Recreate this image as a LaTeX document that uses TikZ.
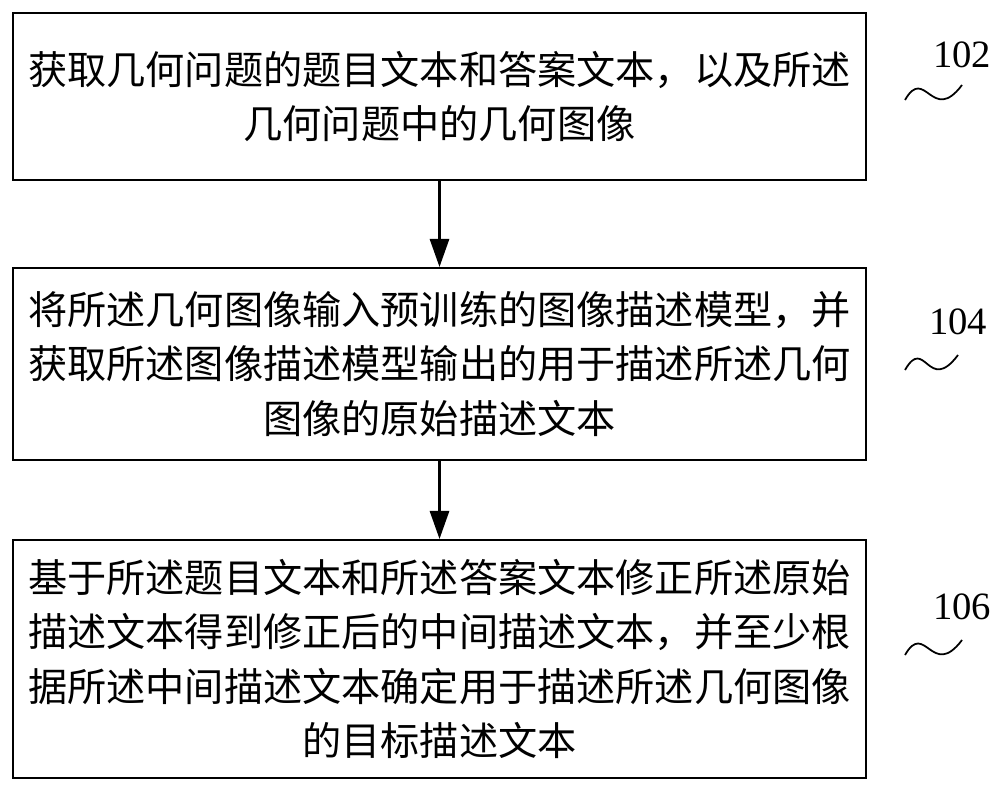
\documentclass[tikz,border=0pt]{standalone}
\usepackage{fontspec}
\setmainfont{Liberation Serif}
\newfontfamily\cjk{Noto Sans CJK SC}
\usetikzlibrary{arrows.meta}
\begin{document}
\begin{tikzpicture}[x=0.02cm,y=-0.02cm,
  stepbox/.style={draw,line width=1.2pt,minimum width=853*0.02cm,text width=840*0.02cm,align=center,font=\cjk\fontsize{22.3pt}{31pt}\selectfont,inner sep=0pt},
  conn/.style={-{Triangle[length=16pt,width=11pt]},line width=1.2pt},
  lbl/.style={font=\fontsize{22pt}{24pt}\selectfont},
  sq/.style={line width=1pt}]
\useasboundingbox (0,0) rectangle (1000,791);
\node[stepbox,minimum height=167*0.02cm] (b1) at (439.5,96.5) {获取几何问题的题目文本和答案文本，以及所述\\几何问题中的几何图像};
\node[stepbox,minimum height=192*0.02cm] (b2) at (439.5,364) {将所述几何图像输入预训练的图像描述模型，并\\获取所述图像描述模型输出的用于描述所述几何\\图像的原始描述文本};
\node[stepbox,minimum height=238*0.02cm] (b3) at (439.5,659) {基于所述题目文本和所述答案文本修正所述原始\\描述文本得到修正后的中间描述文本，并至少根\\据所述中间描述文本确定用于描述所述几何图像\\的目标描述文本};
\draw[conn] (b1) -- (b2);
\draw[conn] (b2) -- (b3);
\node[lbl] (l1) at (962,55) {102};
\node[lbl] (l2) at (958,322) {104};
\node[lbl] (l3) at (962,607) {106};
\coordinate (s1) at (905,100); \coordinate (e1) at (962,85);
\coordinate (s2) at (905,370); \coordinate (e2) at (958,355);
\coordinate (s3) at (905,655); \coordinate (e3) at (962,640);
\foreach \s/\e in {s1/e1,s2/e2,s3/e3}{
  \draw[sq] (\s) .. controls ([shift={(20,-35)}]\s) and ([shift={(-30,40)}]\e) .. (\e);
}
\end{tikzpicture}
\end{document}
